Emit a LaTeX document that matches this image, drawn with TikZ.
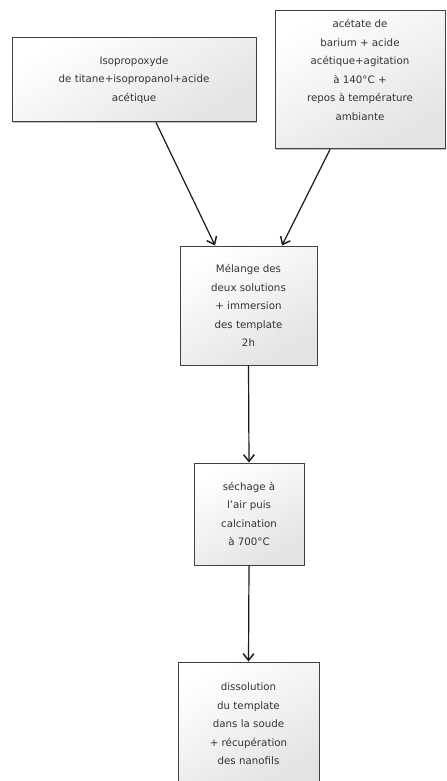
\documentclass[tikz,border=0pt]{standalone}
\usepackage{fontspec}
\setmainfont{DejaVu Sans}
\usetikzlibrary{arrows.meta,shadows}
\begin{document}
\begin{tikzpicture}[x=0.75pt,y=-0.75pt,
  boxtext/.style={align=center, text=black!80, font=\fontsize{7.7}{13.9}\selectfont},
  box/.style={boxtext, draw=black!75, line width=0.75pt, inner sep=0pt,
    top color=white, bottom color=black!11, shading angle=30,
    drop shadow={shadow xshift=0.9pt, shadow yshift=-0.9pt, opacity=0.25, fill=black}},
  arr/.style={line width=0.9pt, draw=black!90, -{Straight Barb[length=5pt,width=8pt,line width=1.1pt]}}]
\useasboundingbox (0,0) rectangle (446,781);
\clip (0,0) rectangle (446,781);
\node[box, minimum width=183pt, minimum height=63pt] (b1) at (134,80)
  {Isopropoxyde\\de titane+isopropanol+acide\\acétique};
\node[box, minimum width=127.5pt, minimum height=103.5pt] (b2) at (360,80) {};
\node[boxtext, inner sep=0pt] (t2) at (360,70)
  {acétate de\\barium + acide\\acétique+agitation\\à 140°C +\\repos à température\\ambiante};
\node[box, minimum width=102.75pt, minimum height=89.25pt] (b3) at (248.5,305.5)
  {Mélange des\\deux solutions\\+ immersion\\des template\\2h};
\node[box, minimum width=82.5pt, minimum height=76.5pt] (b4) at (249,514)
  {séchage à\\l'air puis\\calcination\\à 700°C};
\node[box, minimum width=105.75pt, minimum height=93pt] (b5) at (248.5,724)
  {dissolution\\du template\\dans la soude\\+ récupération\\des nanofils};
\draw[arr] ([xshift=16.5pt]b1.south) -- ([xshift=-25.1pt]b3.north);
\draw[arr] ([xshift=-22.5pt]b2.south) -- ([xshift=25.1pt]b3.north);
\draw[arr] (b3.south) -- (b4.north);
\draw[arr] (b4.south) -- (b5.north);
\end{tikzpicture}
\end{document}
